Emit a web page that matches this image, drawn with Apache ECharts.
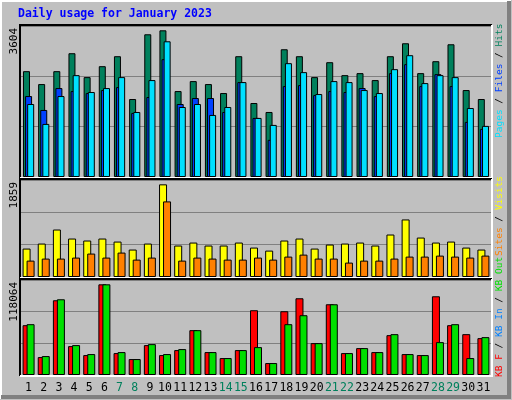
<!DOCTYPE html>
<html><head><meta charset="utf-8">
<script src="https://cdn.jsdelivr.net/npm/echarts@6/dist/echarts.min.js"></script>
<style>html,body{margin:0;padding:0;background:#c0c0c0}#c{width:512px;height:400px}</style>
</head><body><div id="c"></div>
<script>
const days = ['1','2','3','4','5','6','7','8','9','10','11','12','13','14','15','16','17','18','19','20','21','22','23','24','25','26','27','28','29','30','31'];
const weekendDays = ['7','8','14','15','21','22','28','29'];
const hits = [2526,2218,2526,2954,2384,2645,2883,1861,3406,3501,2051,2289,2218,2004,2883,1766,1552,3049,2883,2384,2740,2431,2479,2313,2883,3192,2479,2764,3168,2075,1861];
const files = [1932,1600,2123,2051,2004,2075,2146,1529,1909,2812,1742,1885,1885,1552,2265,1410,887,2170,2194,1956,2051,2028,2123,1932,2479,2693,2170,2455,2170,1315,1148];
const pages = [1742,1267,1932,2431,2028,2123,2384,1552,2313,3239,1671,1742,1481,1671,2265,1410,1243,2717,2503,1980,2289,2265,2075,2004,2574,2907,2241,2431,2384,1647,1220];
const visits = [545,641,910,737,699,737,679,526,641,1776,603,660,603,603,660,564,506,699,737,545,622,641,660,603,814,1103,756,660,679,564,526];
const sites = [314,353,353,372,449,372,468,333,372,1449,314,372,353,333,333,372,333,391,429,353,353,276,314,314,353,391,391,410,391,372,410];
const kbF = [61920,22291,92880,35914,24768,112694,27245,19814,37152,24768,30960,55728,28483,21053,30960,80496,14861,79258,95357,39629,87926,27245,33437,28483,49536,26006,24768,97834,61920,50774,45821];
const kbOut = [63158,23530,94118,37152,26006,112694,28483,19814,38390,26006,32198,55728,28483,21053,30960,34675,14861,63158,74304,39629,87926,27245,33437,28483,50774,26006,24768,40867,63158,21053,47059];
const maxLabels = ['3604','1859','118064'];
const maxVals = [3604,1859,118064];
const title = 'Daily usage for January 2023';

const mono = 'DejaVu Sans Mono';
const L = 21, W = 470;
const grids = [{top:26,h:151},{top:180,h:97},{top:280,h:95}];
const chart = echarts.init(document.getElementById('c'));
const bs = (c)=>({color:c,borderColor:'#000',borderWidth:1});
const xAxes = grids.map((g,i)=>({type:'category',gridIndex:i,data:days,
  axisLine:{show:false},axisTick:{show:false},
  axisLabel:{show:i===2,interval:0,margin:7,fontFamily:mono,fontSize:11.5,
    color:(v)=>weekendDays.includes(v)?'#00805c':'#000'}}));
const yAxes = grids.map((g,i)=>({type:'value',gridIndex:i,min:0,max:maxVals[i],interval:maxVals[i]/3,
  axisLine:{show:false},axisTick:{show:false},axisLabel:{show:false},
  splitLine:{lineStyle:{color:'#808080',width:1}}}));
const graphics = [
  {type:'rect',shape:{x:0,y:0,width:512,height:400},style:{fill:'#c0c0c0'},z:-10},
  {type:'polyline',shape:{points:[[1,399],[1,1],[511,1]]},style:{stroke:'#fff',lineWidth:2,fill:null},z:-9},
  {type:'polyline',shape:{points:[[1,397],[509,397],[509,1]]},style:{stroke:'#808080',lineWidth:4,fill:null},z:-9},
  {type:'text',x:18,y:14,style:{text:title,font:'bold 11.5px '+mono,fill:'#0000ff',verticalAlign:'middle'}}
];
grids.forEach((g,i)=>{
  const x0=L-1,y0=g.top-1,x1=L+W+1,y1=g.top+g.h+1;
  graphics.push({type:'polyline',shape:{points:[[x0,y1],[x0,y0],[x1,y0]]},style:{stroke:'#000',lineWidth:2,fill:null},z:50});
  graphics.push({type:'polyline',shape:{points:[[x0,y1],[x1,y1],[x1,y0]]},style:{stroke:'#fff',lineWidth:2,fill:null},z:50});
  graphics.push({type:'text',x:14,y:g.top+2,rotation:Math.PI/2,style:{text:maxLabels[i],font:'11px '+mono,fill:'#000',align:'right',verticalAlign:'middle'}});
});
function sideLabel(y, parts){
  const rich={}; let txt='';
  parts.forEach((p,k)=>{rich['p'+k]={fill:p[1],font:'9.5px '+mono}; txt+='{p'+k+'|'+p[0]+'}';});
  return {type:'text',x:500,y:y,rotation:Math.PI/2,style:{text:txt,rich:rich,align:'left',verticalAlign:'middle',font:'9.5px '+mono}};
}
graphics.push(sideLabel(138,[['Pages','#00e0ff'],[' / ','#000'],['Files','#0040ff'],[' / ','#000'],['Hits','#00805c']]));
graphics.push(sideLabel(256,[['Sites','#ff8000'],[' / ','#000'],['Visits','#ffff00']]));
graphics.push(sideLabel(377,[['KB F','#ff0000'],[' / ','#000'],['KB In','#0080ff'],[' / ','#000'],['KB Out','#00e000']]));

chart.setOption({
  animation:false,
  grid:grids.map(g=>({left:L,top:g.top,width:W,height:g.h})),
  xAxis:xAxes, yAxis:yAxes, graphic:graphics,
  series:[
    {type:'bar',xAxisIndex:0,yAxisIndex:0,data:hits,barWidth:7,barGap:'-70%',itemStyle:bs('#00805c')},
    {type:'bar',xAxisIndex:0,yAxisIndex:0,data:files,barWidth:7,barGap:'-70%',itemStyle:bs('#0040ff')},
    {type:'bar',xAxisIndex:0,yAxisIndex:0,data:pages,barWidth:7,barGap:'-70%',itemStyle:bs('#00e0ff')},
    {type:'bar',xAxisIndex:1,yAxisIndex:1,data:visits,barWidth:8,barGap:'-50%',itemStyle:bs('#ffff00')},
    {type:'bar',xAxisIndex:1,yAxisIndex:1,data:sites,barWidth:8,barGap:'-50%',itemStyle:bs('#ff8000')},
    {type:'bar',xAxisIndex:2,yAxisIndex:2,data:kbF,barWidth:8,barGap:'-50%',itemStyle:bs('#ff0000')},
    {type:'bar',xAxisIndex:2,yAxisIndex:2,data:kbOut,barWidth:8,barGap:'-50%',itemStyle:bs('#00e000')}
  ]
});
</script></body></html>
